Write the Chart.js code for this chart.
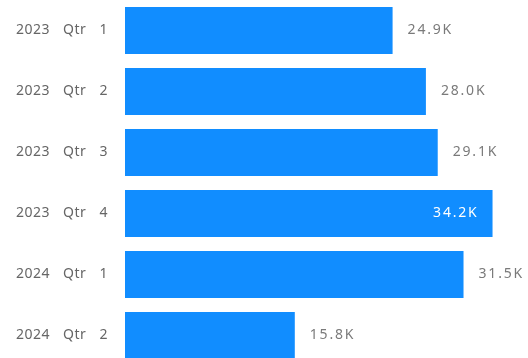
<!DOCTYPE html>
<html>
<head>
<meta charset="utf-8">
<script src="https://cdn.jsdelivr.net/npm/chart.js@4"></script>
<style>
  html, body { margin: 0; padding: 0; background: #fff; overflow: hidden; }
  #wrap { position: relative; width: 528px; height: 366px; }
</style>
</head>
<body>
<div id="wrap"><canvas id="chart"></canvas></div>
<script>
// ─── Data ─────────────────────────────────────────────────────────────────────
const quarters = ['2023 Qtr 1', '2023 Qtr 2', '2023 Qtr 3', '2023 Qtr 4', '2024 Qtr 1', '2024 Qtr 2'];
const sales = [24900, 28000, 29100, 34200, 31500, 15800];
const axisMax = 37500;

const BAR_BLUE = '#118DFF';

function formatK(v) {
  return (v / 1000).toFixed(1) + 'K';
}

// ─── Spacing for tick text ────────────────────────────────────────────────────
const textSpacing = {
  id: 'textSpacing',
  beforeDraw(chart) {
    chart.ctx.letterSpacing = '0.5px';
    chart.ctx.wordSpacing = '9px';
  }
};

// ─── Value labels (outside, or inside when no room) ───────────────────────────
const valueLabels = {
  id: 'valueLabels',
  afterDatasetsDraw(chart) {
    const { ctx, chartArea } = chart;
    const meta = chart.getDatasetMeta(0);
    ctx.save();
    ctx.font = '14px "Noto Sans", "Open Sans", sans-serif';
    ctx.letterSpacing = '1.8px';
    ctx.wordSpacing = '0px';
    ctx.textBaseline = 'middle';
    meta.data.forEach((bar, i) => {
      const txt = formatK(sales[i]);
      const w = ctx.measureText(txt).width;
      if (bar.x + 15 + w > chartArea.right) {
        ctx.fillStyle = '#ffffff';
        ctx.textAlign = 'right';
        ctx.fillText(txt, bar.x - 14, bar.y);
      } else {
        ctx.fillStyle = '#7a7a7a';
        ctx.textAlign = 'left';
        ctx.fillText(txt, bar.x + 15, bar.y);
      }
    });
    ctx.restore();
  }
};

new Chart(document.getElementById('chart'), {
  type: 'bar',
  data: {
    labels: quarters,
    datasets: [{
      data: sales,
      backgroundColor: BAR_BLUE,
      borderWidth: 0,
      categoryPercentage: 1,
      barPercentage: 0.77,
    }]
  },
  options: {
    indexAxis: 'y',
    responsive: true,
    maintainAspectRatio: false,
    animation: false,
    layout: { padding: 0 },
    plugins: {
      legend: { display: false },
      tooltip: { enabled: false }
    },
    scales: {
      x: {
        display: false,
        min: 0,
        max: axisMax
      },
      y: {
        grid: { display: false, drawTicks: false },
        border: { display: false },
        ticks: {
          padding: 17,
          color: '#666666',
          font: { family: '"Noto Sans", "Open Sans", sans-serif', size: 14 }
        },
        afterFit(scale) {
          scale.width = 125;
          // bands run edge to edge, no room kept for the outer labels
          scale.paddingTop = 0;
          scale.paddingBottom = 0;
        }
      }
    }
  },
  plugins: [textSpacing, valueLabels]
});
</script>
</body>
</html>
